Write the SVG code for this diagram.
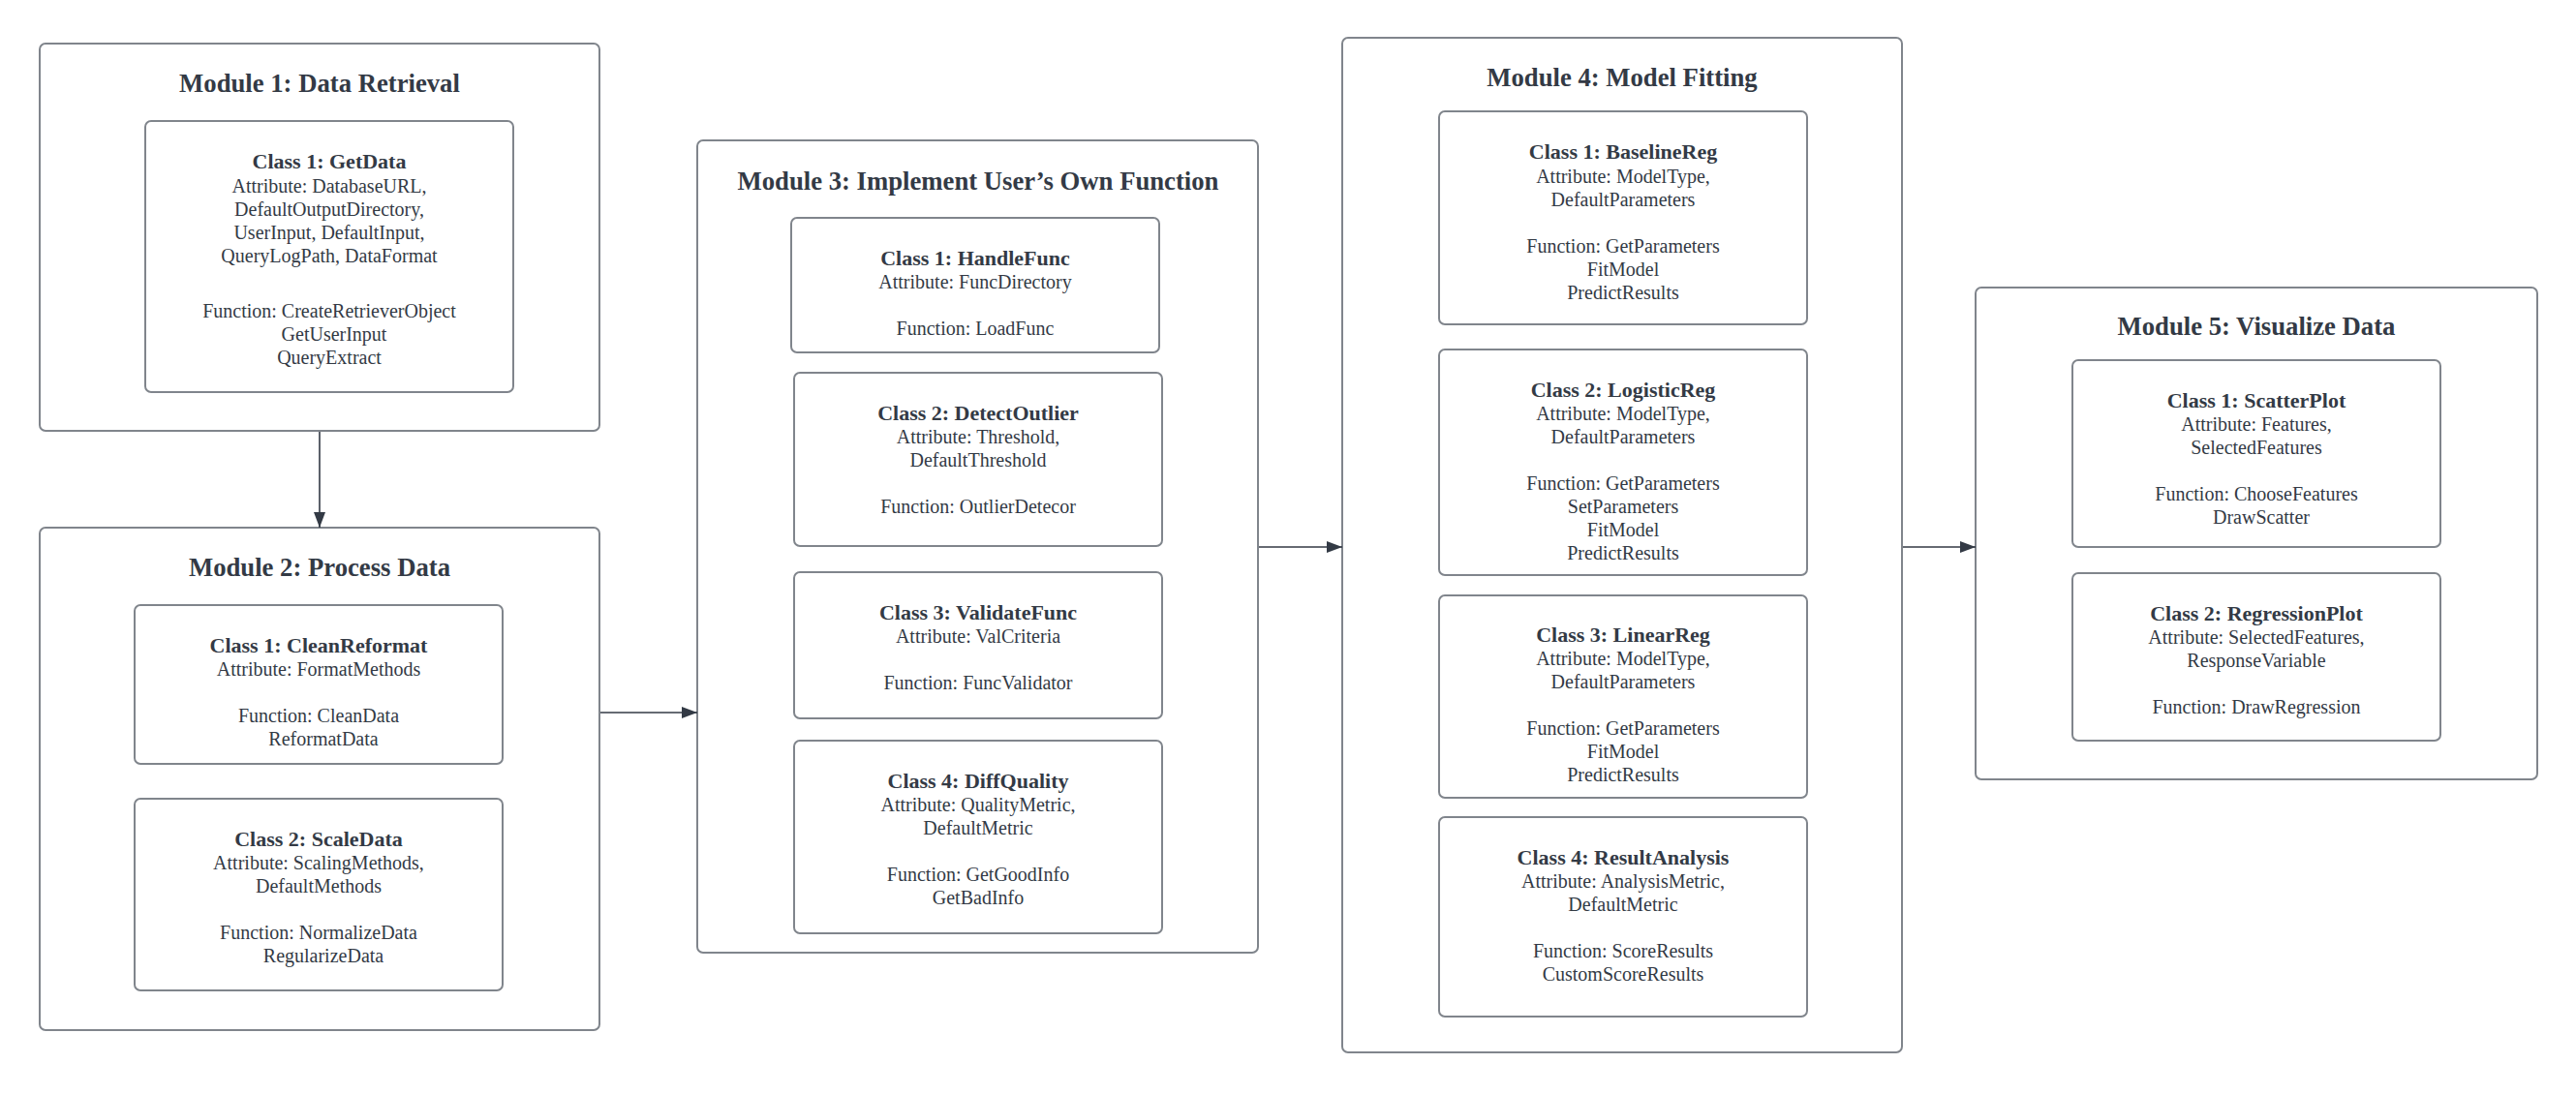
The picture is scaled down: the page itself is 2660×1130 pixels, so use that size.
<svg xmlns="http://www.w3.org/2000/svg" width="2660" height="1130" viewBox="0 0 2660 1130">
<defs>
<style>
.mod{fill:#ffffff;stroke:#80858c;stroke-width:2}
.cls{fill:#ffffff;stroke:#80858c;stroke-width:2}
text{font-family:"Liberation Serif","Times New Roman",serif;fill:#333a45;text-anchor:middle}
.mt{font-size:26.7px;font-weight:bold}
.ct{font-size:22px;font-weight:bold}
.tx{font-size:20px}
.con{fill:none;stroke:#333a45;stroke-width:1.6}
</style>
<marker id="arr" markerUnits="userSpaceOnUse" markerWidth="16" markerHeight="12" refX="16" refY="6" orient="auto">
<path d="M0,0 L16,6 L0,12 z" fill="#333a45"/>
</marker>
</defs>
<rect width="2660" height="1130" fill="#ffffff"/>

<g id="module1">
<rect class="mod" x="41" y="45" width="578" height="400" rx="6"/>
<text class="mt" x="330" y="95">Module 1: Data Retrieval</text>
<g id="m1-getdata">
<rect class="cls" x="150" y="125" width="380" height="280" rx="6"/>
<text class="ct" x="340" y="174">Class 1: GetData</text>
<text class="tx" x="340" y="199">Attribute: DatabaseURL,</text>
<text class="tx" x="340" y="223">DefaultOutputDirectory,</text>
<text class="tx" x="340" y="247">UserInput, DefaultInput,</text>
<text class="tx" x="340" y="271">QueryLogPath, DataFormat</text>
<text class="tx" x="340" y="328">Function: CreateRetrieverObject</text>
<text class="tx" x="345" y="352">GetUserInput</text>
<text class="tx" x="340" y="376">QueryExtract</text>
</g>
</g>

<g id="module2">
<rect class="mod" x="41" y="545" width="578" height="519" rx="6"/>
<text class="mt" x="330" y="595">Module 2: Process Data</text>
<g id="m2-cleanreformat">
<rect class="cls" x="139" y="625" width="380" height="164" rx="6"/>
<text class="ct" x="329" y="674">Class 1: CleanReformat</text>
<text class="tx" x="329" y="698">Attribute: FormatMethods</text>
<text class="tx" x="329" y="746">Function: CleanData</text>
<text class="tx" x="334" y="770">ReformatData</text>
</g>
<g id="m2-scaledata">
<rect class="cls" x="139" y="825" width="380" height="198" rx="6"/>
<text class="ct" x="329" y="874">Class 2: ScaleData</text>
<text class="tx" x="329" y="898">Attribute: ScalingMethods,</text>
<text class="tx" x="329" y="922">DefaultMethods</text>
<text class="tx" x="329" y="970">Function: NormalizeData</text>
<text class="tx" x="334" y="994">RegularizeData</text>
</g>
</g>

<g id="module3">
<rect class="mod" x="720" y="145" width="579" height="839" rx="6"/>
<text class="mt" x="1010" y="196">Module 3: Implement User’s Own Function</text>
<g id="m3-handlefunc">
<rect class="cls" x="817" y="225" width="380" height="139" rx="6"/>
<text class="ct" x="1007" y="274">Class 1: HandleFunc</text>
<text class="tx" x="1007" y="298">Attribute: FuncDirectory</text>
<text class="tx" x="1007" y="346">Function: LoadFunc</text>
</g>
<g id="m3-detectoutlier">
<rect class="cls" x="820" y="385" width="380" height="179" rx="6"/>
<text class="ct" x="1010" y="434">Class 2: DetectOutlier</text>
<text class="tx" x="1010" y="458">Attribute: Threshold,</text>
<text class="tx" x="1010" y="482">DefaultThreshold</text>
<text class="tx" x="1010" y="530">Function: OutlierDetecor</text>
</g>
<g id="m3-validatefunc">
<rect class="cls" x="820" y="591" width="380" height="151" rx="6"/>
<text class="ct" x="1010" y="640">Class 3: ValidateFunc</text>
<text class="tx" x="1010" y="664">Attribute: ValCriteria</text>
<text class="tx" x="1010" y="712">Function: FuncValidator</text>
</g>
<g id="m3-diffquality">
<rect class="cls" x="820" y="765" width="380" height="199" rx="6"/>
<text class="ct" x="1010" y="814">Class 4: DiffQuality</text>
<text class="tx" x="1010" y="838">Attribute: QualityMetric,</text>
<text class="tx" x="1010" y="862">DefaultMetric</text>
<text class="tx" x="1010" y="910">Function: GetGoodInfo</text>
<text class="tx" x="1010" y="934">GetBadInfo</text>
</g>
</g>

<g id="module4">
<rect class="mod" x="1386" y="39" width="578" height="1048" rx="6"/>
<text class="mt" x="1675" y="89">Module 4: Model Fitting</text>
<g id="m4-baselinereg">
<rect class="cls" x="1486" y="115" width="380" height="220" rx="6"/>
<text class="ct" x="1676" y="164">Class 1: BaselineReg</text>
<text class="tx" x="1676" y="189">Attribute: ModelType,</text>
<text class="tx" x="1676" y="213">DefaultParameters</text>
<text class="tx" x="1676" y="261">Function: GetParameters</text>
<text class="tx" x="1676" y="285">FitModel</text>
<text class="tx" x="1676" y="309">PredictResults</text>
</g>
<g id="m4-logisticreg">
<rect class="cls" x="1486" y="361" width="380" height="233" rx="6"/>
<text class="ct" x="1676" y="410">Class 2: LogisticReg</text>
<text class="tx" x="1676" y="434">Attribute: ModelType,</text>
<text class="tx" x="1676" y="458">DefaultParameters</text>
<text class="tx" x="1676" y="506">Function: GetParameters</text>
<text class="tx" x="1676" y="530">SetParameters</text>
<text class="tx" x="1676" y="554">FitModel</text>
<text class="tx" x="1676" y="578">PredictResults</text>
</g>
<g id="m4-linearreg">
<rect class="cls" x="1486" y="615" width="380" height="209" rx="6"/>
<text class="ct" x="1676" y="663">Class 3: LinearReg</text>
<text class="tx" x="1676" y="687">Attribute: ModelType,</text>
<text class="tx" x="1676" y="711">DefaultParameters</text>
<text class="tx" x="1676" y="759">Function: GetParameters</text>
<text class="tx" x="1676" y="783">FitModel</text>
<text class="tx" x="1676" y="807">PredictResults</text>
</g>
<g id="m4-resultanalysis">
<rect class="cls" x="1486" y="844" width="380" height="206" rx="6"/>
<text class="ct" x="1676" y="893">Class 4: ResultAnalysis</text>
<text class="tx" x="1676" y="917">Attribute: AnalysisMetric,</text>
<text class="tx" x="1676" y="941">DefaultMetric</text>
<text class="tx" x="1676" y="989">Function: ScoreResults</text>
<text class="tx" x="1676" y="1013">CustomScoreResults</text>
</g>
</g>

<g id="module5">
<rect class="mod" x="2040" y="297" width="580" height="508" rx="6"/>
<text class="mt" x="2330" y="346">Module 5: Visualize Data</text>
<g id="m5-scatterplot">
<rect class="cls" x="2140" y="372" width="380" height="193" rx="6"/>
<text class="ct" x="2330" y="421">Class 1: ScatterPlot</text>
<text class="tx" x="2330" y="445">Attribute: Features,</text>
<text class="tx" x="2330" y="469">SelectedFeatures</text>
<text class="tx" x="2330" y="517">Function: ChooseFeatures</text>
<text class="tx" x="2335" y="541">DrawScatter</text>
</g>
<g id="m5-regressionplot">
<rect class="cls" x="2140" y="592" width="380" height="173" rx="6"/>
<text class="ct" x="2330" y="641">Class 2: RegressionPlot</text>
<text class="tx" x="2330" y="665">Attribute: SelectedFeatures,</text>
<text class="tx" x="2330" y="689">ResponseVariable</text>
<text class="tx" x="2330" y="737">Function: DrawRegression</text>
</g>
</g>

<g id="connectors">
<line class="con" x1="330" y1="446" x2="330" y2="545" marker-end="url(#arr)"/>
<line class="con" x1="620" y1="736" x2="720" y2="736" marker-end="url(#arr)"/>
<line class="con" x1="1300" y1="565" x2="1386" y2="565" marker-end="url(#arr)"/>
<line class="con" x1="1965" y1="565" x2="2040" y2="565" marker-end="url(#arr)"/>
</g>
</svg>
